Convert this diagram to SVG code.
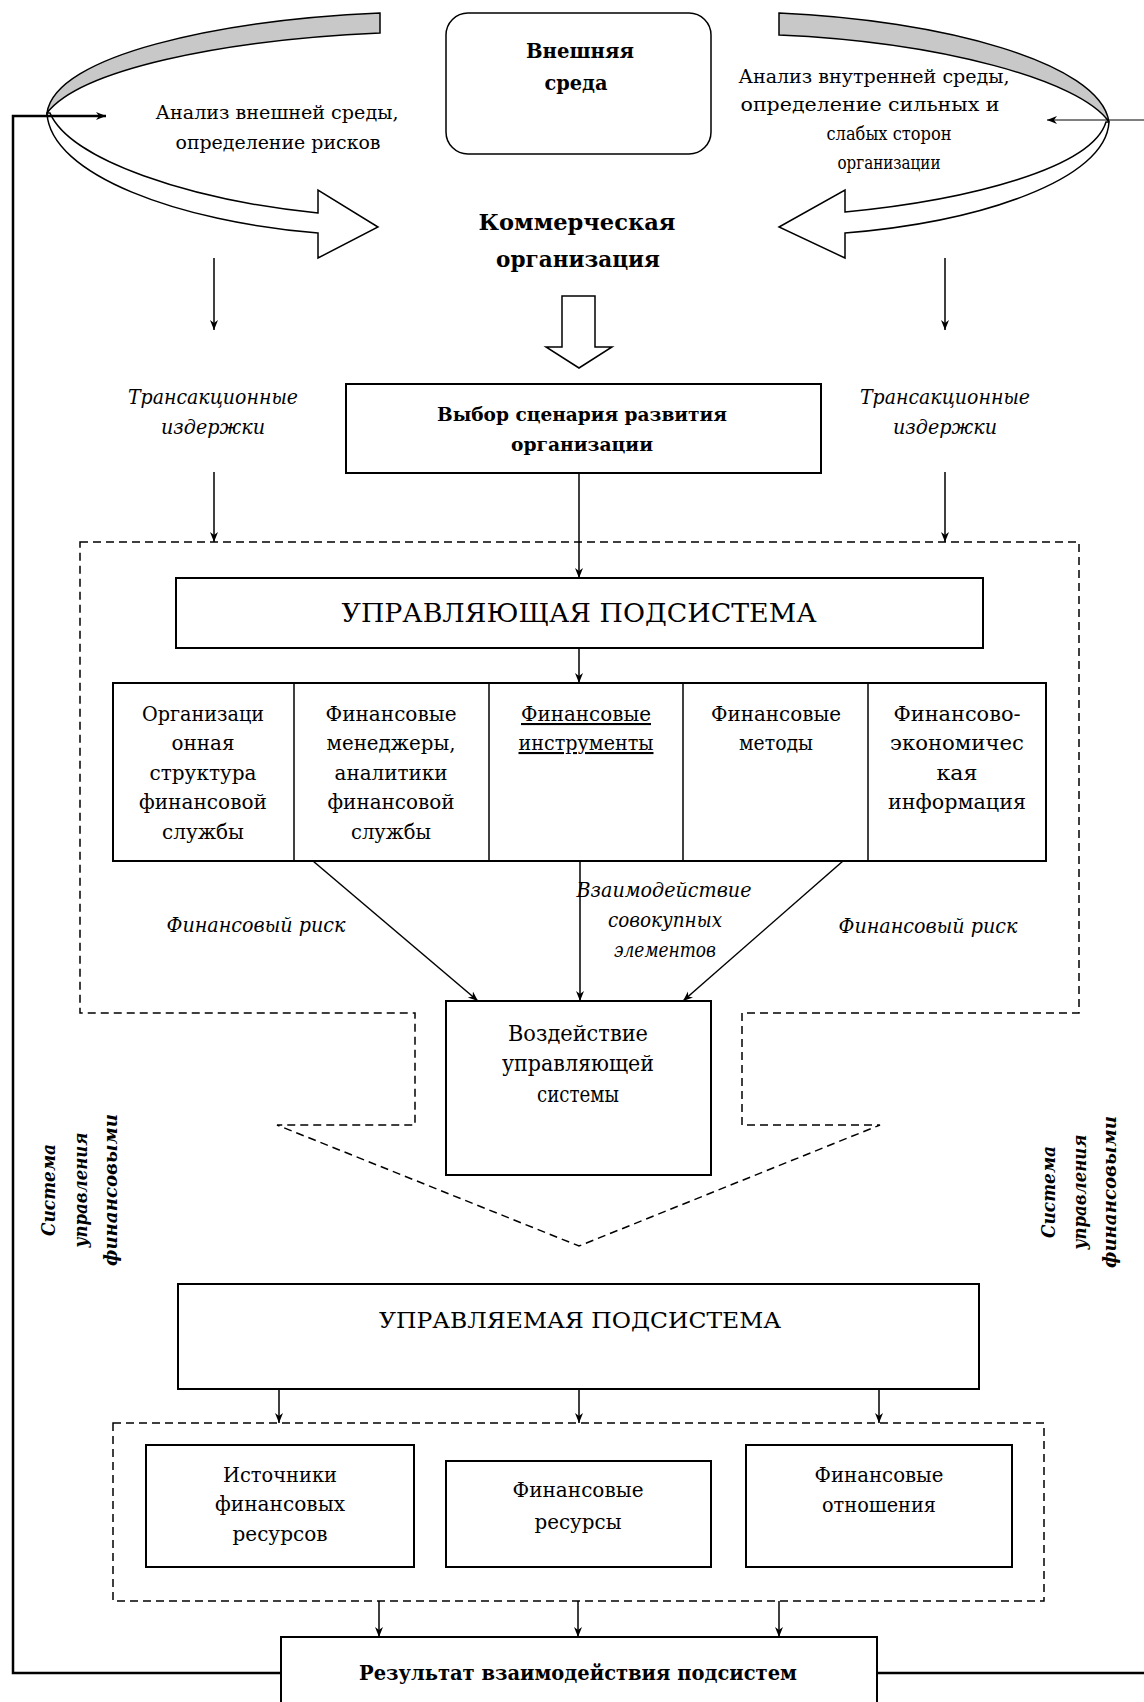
<svg xmlns="http://www.w3.org/2000/svg" width="1144" height="1702" viewBox="0 0 1144 1702">
<style>
text{font-family:"DejaVu Serif","Liberation Serif",serif;fill:#000;text-anchor:middle}
.b{font-weight:bold}
.i{font-style:italic}
.box{fill:#fff;stroke:#000;stroke-width:2}
.ln{fill:none;stroke:#000;stroke-width:1.5}
.thk{fill:none;stroke:#000;stroke-width:2.5}
.dash{fill:none;stroke:#000;stroke-width:1.5;stroke-dasharray:8 5}
.t21{font-size:21px}
.it20{font-size:20px}
</style>
<defs>
<marker id="ah" markerUnits="userSpaceOnUse" markerWidth="10" markerHeight="10" refX="10" refY="5" orient="auto">
<path d="M0,1 L10,5 L0,9 L3,5 z" fill="#000"/>
</marker>
</defs>
<rect width="1144" height="1702" fill="#fff"/>

<g id="curved-left">
<path d="M380,13 C220,20 55,55 47,113 C80,70 220,40 380,33 Z" fill="#c8c8c8" stroke="#000" stroke-width="1.5"/>
<path d="M47,113 C50,175 180,222 318,233 L318,258 L378,227 L318,190 L318,213 C190,200 70,160 50,113 Z" fill="#fff" stroke="#000" stroke-width="1.5"/>
</g>
<g id="curved-right">
<path d="M779,13 C940,20 1100,62 1109,122 C1080,80 940,42 779,35 Z" fill="#c8c8c8" stroke="#000" stroke-width="1.5"/>
<path d="M1109,122 C1106,180 980,222 845,233 L845,258 L779,227 L845,190 L845,212 C970,200 1092,168 1106,122 Z" fill="#fff" stroke="#000" stroke-width="1.5"/>
</g>

<g id="dashed-regions">
<path class="dash" d="M80,542 H1079 V1013 H742 V1125 H880 L579,1246 L277,1125 H415 V1013 H80 Z"/>
<rect class="dash" x="113" y="1423" width="931" height="178"/>
</g>

<g id="connectors">
<polyline class="thk" points="281,1673 13,1673 13,116 106,116" marker-end="url(#ah)"/>
<line class="ln" x1="877" y1="1673" x2="1144" y2="1673" style="stroke-width:2.5"/>
<line x1="1144" y1="120" x2="1047" y2="120" stroke="#000" stroke-width="1" marker-end="url(#ah)"/>
<line class="ln" x1="214" y1="258" x2="214" y2="330" marker-end="url(#ah)"/>
<line class="ln" x1="945" y1="258" x2="945" y2="330" marker-end="url(#ah)"/>
<line class="ln" x1="214" y1="472" x2="214" y2="542" marker-end="url(#ah)"/>
<line class="ln" x1="945" y1="472" x2="945" y2="542" marker-end="url(#ah)"/>
<polygon points="562,296 595,296 595,347 612,347 579,368 546,347 562,347" fill="#fff" stroke="#000" stroke-width="1.5"/>
<line class="ln" x1="579" y1="473" x2="579" y2="578" marker-end="url(#ah)"/>
<line class="ln" x1="579" y1="648" x2="579" y2="683" marker-end="url(#ah)"/>
<line class="ln" x1="313" y1="861" x2="478" y2="1001" marker-end="url(#ah)"/>
<line class="ln" x1="580" y1="861" x2="580" y2="1001" marker-end="url(#ah)"/>
<line class="ln" x1="843" y1="861" x2="683" y2="1001" marker-end="url(#ah)"/>
<line class="ln" x1="279" y1="1389" x2="279" y2="1423" marker-end="url(#ah)"/>
<line class="ln" x1="579" y1="1389" x2="579" y2="1423" marker-end="url(#ah)"/>
<line class="ln" x1="879" y1="1389" x2="879" y2="1423" marker-end="url(#ah)"/>
<line class="ln" x1="379" y1="1601" x2="379" y2="1637" marker-end="url(#ah)"/>
<line class="ln" x1="578" y1="1601" x2="578" y2="1637" marker-end="url(#ah)"/>
<line class="ln" x1="779" y1="1601" x2="779" y2="1637" marker-end="url(#ah)"/>
</g>

<g id="vneshnyaya-sreda">
<rect class="box" x="446" y="13" width="265" height="141" rx="22" style="stroke-width:1.5"/>
<text class="b" x="580" y="58" font-size="20" textLength="108" lengthAdjust="spacingAndGlyphs">Внешняя</text>
<text class="b" x="576" y="90" font-size="20" textLength="63" lengthAdjust="spacingAndGlyphs">среда</text>
</g>

<g id="analiz-vneshney">
<text x="277" y="119" font-size="19" textLength="243" lengthAdjust="spacingAndGlyphs">Анализ внешней среды,</text>
<text x="278" y="149" font-size="19" textLength="205" lengthAdjust="spacingAndGlyphs">определение рисков</text>
</g>

<g id="analiz-vnutrenney">
<text x="874" y="83" font-size="19" textLength="271" lengthAdjust="spacingAndGlyphs">Анализ внутренней среды,</text>
<text x="870" y="111" font-size="19" textLength="259" lengthAdjust="spacingAndGlyphs">определение сильных и</text>
<text x="889" y="140" font-size="19" textLength="125" lengthAdjust="spacingAndGlyphs">слабых сторон</text>
<text x="889" y="169" font-size="19" textLength="103" lengthAdjust="spacingAndGlyphs">организации</text>
</g>

<g id="kommercheskaya">
<text class="b" x="577" y="230" font-size="23" textLength="197" lengthAdjust="spacingAndGlyphs">Коммерческая</text>
<text class="b" x="578" y="267" font-size="23" textLength="164" lengthAdjust="spacingAndGlyphs">организация</text>
</g>

<g id="trans-left">
<text class="i it20" x="213" y="404" textLength="170" lengthAdjust="spacingAndGlyphs">Трансакционные</text>
<text class="i it20" x="213" y="434" textLength="104" lengthAdjust="spacingAndGlyphs">издержки</text>
</g>
<g id="trans-right">
<text class="i it20" x="945" y="404" textLength="170" lengthAdjust="spacingAndGlyphs">Трансакционные</text>
<text class="i it20" x="945" y="434" textLength="104" lengthAdjust="spacingAndGlyphs">издержки</text>
</g>

<g id="vybor">
<rect class="box" x="346" y="384" width="475" height="89"/>
<text class="b" x="582" y="421" font-size="18" textLength="290" lengthAdjust="spacingAndGlyphs">Выбор сценария развития</text>
<text class="b" x="582" y="451" font-size="18" textLength="142" lengthAdjust="spacingAndGlyphs">организации</text>
</g>

<g id="upravlyayushaya">
<rect class="box" x="176" y="578" width="807" height="70"/>
<text x="579" y="622" font-size="26" textLength="475" lengthAdjust="spacingAndGlyphs">УПРАВЛЯЮЩАЯ ПОДСИСТЕМА</text>
</g>

<g id="elements-table">
<rect class="box" x="113" y="683" width="933" height="178"/>
<line class="ln" x1="294" y1="683" x2="294" y2="861"/>
<line class="ln" x1="489" y1="683" x2="489" y2="861"/>
<line class="ln" x1="683" y1="683" x2="683" y2="861"/>
<line class="ln" x1="868" y1="683" x2="868" y2="861"/>
<g class="t21">
<text x="203" y="721" textLength="122" lengthAdjust="spacingAndGlyphs">Организаци</text>
<text x="203" y="750" textLength="63" lengthAdjust="spacingAndGlyphs">онная</text>
<text x="203" y="780" textLength="107" lengthAdjust="spacingAndGlyphs">структура</text>
<text x="203" y="809" textLength="128" lengthAdjust="spacingAndGlyphs">финансовой</text>
<text x="203" y="839" textLength="82" lengthAdjust="spacingAndGlyphs">службы</text>
<text x="391" y="721" textLength="131" lengthAdjust="spacingAndGlyphs">Финансовые</text>
<text x="391" y="750" textLength="129" lengthAdjust="spacingAndGlyphs">менеджеры,</text>
<text x="391" y="780" textLength="113" lengthAdjust="spacingAndGlyphs">аналитики</text>
<text x="391" y="809" textLength="127" lengthAdjust="spacingAndGlyphs">финансовой</text>
<text x="391" y="839" textLength="80" lengthAdjust="spacingAndGlyphs">службы</text>
<text x="586" y="721" textLength="130" lengthAdjust="spacingAndGlyphs" text-decoration="underline">Финансовые</text>
<text x="586" y="750" textLength="135" lengthAdjust="spacingAndGlyphs" text-decoration="underline">инструменты</text>
<text x="776" y="721" textLength="130" lengthAdjust="spacingAndGlyphs">Финансовые</text>
<text x="776" y="750" textLength="74" lengthAdjust="spacingAndGlyphs">методы</text>
<text x="957" y="721" textLength="127" lengthAdjust="spacingAndGlyphs">Финансово-</text>
<text x="957" y="750" textLength="134" lengthAdjust="spacingAndGlyphs">экономичес</text>
<text x="957" y="780" textLength="41" lengthAdjust="spacingAndGlyphs">кая</text>
<text x="957" y="809" textLength="138" lengthAdjust="spacingAndGlyphs">информация</text>
</g>
</g>

<g id="risk-left"><text class="i it20" x="256" y="932" textLength="179" lengthAdjust="spacingAndGlyphs">Финансовый риск</text></g>
<g id="risk-right"><text class="i it20" x="928" y="933" textLength="179" lengthAdjust="spacingAndGlyphs">Финансовый риск</text></g>
<g id="vzaimodeystvie">
<text class="i it20" x="664" y="897" textLength="175" lengthAdjust="spacingAndGlyphs">Взаимодействие</text>
<text class="i it20" x="665" y="927" textLength="114" lengthAdjust="spacingAndGlyphs">совокупных</text>
<text class="i it20" x="665" y="957" textLength="102" lengthAdjust="spacingAndGlyphs">элементов</text>
</g>

<g id="vozdeystvie">
<rect class="box" x="446" y="1001" width="265" height="174"/>
<text x="578" y="1041" font-size="23" textLength="140" lengthAdjust="spacingAndGlyphs">Воздействие</text>
<text x="578" y="1071" font-size="23" textLength="152" lengthAdjust="spacingAndGlyphs">управляющей</text>
<text x="578" y="1102" font-size="23" textLength="82" lengthAdjust="spacingAndGlyphs">системы</text>
</g>

<g id="label-left" class="b i" font-size="19">
<text x="55" y="1190" transform="rotate(-90 55 1190)" textLength="92" lengthAdjust="spacingAndGlyphs">Система</text>
<text x="87" y="1190" transform="rotate(-90 87 1190)" textLength="115" lengthAdjust="spacingAndGlyphs">управления</text>
<text x="117" y="1190" transform="rotate(-90 117 1190)" textLength="152" lengthAdjust="spacingAndGlyphs">финансовыми</text>
</g>
<g id="label-right" class="b i" font-size="19">
<text x="1055" y="1192" transform="rotate(-90 1055 1192)" textLength="92" lengthAdjust="spacingAndGlyphs">Система</text>
<text x="1086" y="1192" transform="rotate(-90 1086 1192)" textLength="115" lengthAdjust="spacingAndGlyphs">управления</text>
<text x="1116" y="1192" transform="rotate(-90 1116 1192)" textLength="152" lengthAdjust="spacingAndGlyphs">финансовыми</text>
</g>

<g id="upravlyaemaya">
<rect class="box" x="178" y="1284" width="801" height="105"/>
<text x="580" y="1328" font-size="23" textLength="402" lengthAdjust="spacingAndGlyphs">УПРАВЛЯЕМАЯ ПОДСИСТЕМА</text>
</g>

<g id="istochniki">
<rect class="box" x="146" y="1445" width="268" height="122"/>
<text class="t21" x="280" y="1482" textLength="114" lengthAdjust="spacingAndGlyphs">Источники</text>
<text class="t21" x="280" y="1511" textLength="130" lengthAdjust="spacingAndGlyphs">финансовых</text>
<text class="t21" x="280" y="1541" textLength="95" lengthAdjust="spacingAndGlyphs">ресурсов</text>
</g>
<g id="fin-resursy">
<rect class="box" x="446" y="1461" width="265" height="106"/>
<text class="t21" x="578" y="1497" textLength="131" lengthAdjust="spacingAndGlyphs">Финансовые</text>
<text class="t21" x="578" y="1529" textLength="87" lengthAdjust="spacingAndGlyphs">ресурсы</text>
</g>
<g id="fin-otnosheniya">
<rect class="box" x="746" y="1445" width="266" height="122"/>
<text class="t21" x="879" y="1482" textLength="129" lengthAdjust="spacingAndGlyphs">Финансовые</text>
<text class="t21" x="879" y="1512" textLength="114" lengthAdjust="spacingAndGlyphs">отношения</text>
</g>

<g id="rezultat">
<rect class="box" x="281" y="1637" width="596" height="80"/>
<text class="b" x="578" y="1680" font-size="20" textLength="438" lengthAdjust="spacingAndGlyphs">Результат взаимодействия подсистем</text>
</g>
</svg>
